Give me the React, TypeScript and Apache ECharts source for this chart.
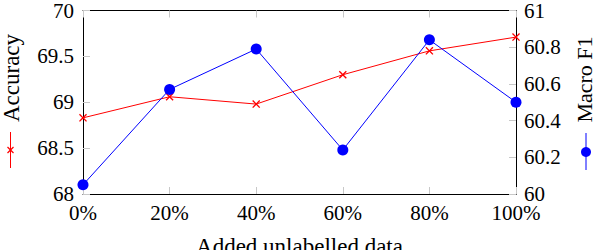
import React, { useEffect, useRef } from "react";
import * as echarts from "echarts";

const categories = ["0%", "20%", "40%", "60%", "80%", "100%"];
const accuracy = [68.83, 69.06, 68.98, 69.3, 69.56, 69.71];
const macroF1 = [60.05, 60.57, 60.79, 60.24, 60.84, 60.5];
const xName = "Added unlabelled data";
const leftName = "Accuracy";
const rightName = "Macro F1";

const FONT = "Liberation Serif";
const RED = "#ff0000";
const BLUE = "#0000ff";
const TICK = "#c8c8c8";
const CROSS =
  "path://M0,1.2L1.2,0L5,3.8L8.8,0L10,1.2L6.2,5L10,8.8L8.8,10L5,6.2L1.2,10L0,8.8L3.8,5Z";

const fmt = (v: number) => String(parseFloat(v.toFixed(1)));

export default function App() {
  const ref = useRef<HTMLDivElement>(null);
  useEffect(() => {
    if (!ref.current) return;
    const chart = echarts.init(ref.current, null, { renderer: "svg" });
    const labelStyle = { color: "#000", fontFamily: FONT, fontSize: 21 };
    chart.setOption({
      animation: false,
      textStyle: { fontFamily: FONT, color: "#000" },
      grid: { left: 83, right: 78, top: 9, bottom: 56, show: false },
      xAxis: [
        {
          type: "category",
          data: categories,
          boundaryGap: false,
          position: "bottom",
          axisLine: { show: true, lineStyle: { color: "#000", width: 1 } },
          axisTick: { show: true, inside: true, length: 7, lineStyle: { color: TICK } },
          axisLabel: { ...labelStyle, margin: 8, interval: 0 },
          splitLine: { show: false },
        },
        {
          type: "category",
          data: categories,
          boundaryGap: false,
          position: "top",
          axisLine: { show: true, lineStyle: { color: "#000", width: 1 } },
          axisTick: { show: true, inside: true, length: 7, lineStyle: { color: TICK } },
          axisLabel: { show: false },
          splitLine: { show: false },
        },
      ],
      yAxis: [
        {
          type: "value",
          min: 68,
          max: 70,
          interval: 0.5,
          position: "left",
          axisLine: { show: true, lineStyle: { color: "#000", width: 1 } },
          axisTick: { show: true, inside: true, length: 7, lineStyle: { color: TICK } },
          axisLabel: { ...labelStyle, margin: 9, formatter: fmt },
          splitLine: { show: false },
        },
        {
          type: "value",
          min: 60,
          max: 61,
          interval: 0.2,
          position: "right",
          axisLine: { show: true, lineStyle: { color: "#000", width: 1 } },
          axisTick: { show: true, inside: true, length: 7, lineStyle: { color: TICK } },
          axisLabel: { ...labelStyle, margin: 8, formatter: fmt },
          splitLine: { show: false },
        },
      ],
      series: [
        {
          name: leftName,
          type: "line",
          data: accuracy,
          xAxisIndex: 0,
          yAxisIndex: 0,
          symbol: CROSS,
          symbolSize: 8,
          itemStyle: { color: RED },
          lineStyle: { color: RED, width: 1 },
        },
        {
          name: rightName,
          type: "line",
          data: macroF1,
          xAxisIndex: 0,
          yAxisIndex: 1,
          symbol: "circle",
          symbolSize: 11,
          itemStyle: { color: BLUE },
          lineStyle: { color: BLUE, width: 1 },
        },
      ],
      graphic: [
        {
          type: "text",
          x: 299.5,
          y: 246,
          style: {
            text: xName,
            fontFamily: FONT,
            fontSize: 23,
            fill: "#000",
            align: "center",
            verticalAlign: "middle",
          },
        },
        {
          type: "text",
          x: 11,
          y: 78,
          rotation: Math.PI / 2,
          style: {
            text: leftName,
            fontFamily: FONT,
            fontSize: 23,
            fill: "#000",
            align: "center",
            verticalAlign: "middle",
          },
        },
        {
          type: "line",
          shape: { x1: 10.5, y1: 132, x2: 10.5, y2: 168 },
          style: { stroke: RED, lineWidth: 1 },
        },
        {
          type: "line",
          shape: { x1: 7.5, y1: 147, x2: 13.5, y2: 153 },
          style: { stroke: RED, lineWidth: 1.2 },
        },
        {
          type: "line",
          shape: { x1: 13.5, y1: 147, x2: 7.5, y2: 153 },
          style: { stroke: RED, lineWidth: 1.2 },
        },
        {
          type: "text",
          x: 584,
          y: 79.5,
          rotation: Math.PI / 2,
          style: {
            text: rightName,
            fontFamily: FONT,
            fontSize: 22,
            fill: "#000",
            align: "center",
            verticalAlign: "middle",
          },
        },
        {
          type: "line",
          shape: { x1: 586, y1: 133, x2: 586, y2: 170 },
          style: { stroke: BLUE, lineWidth: 1 },
        },
        {
          type: "circle",
          shape: { cx: 586, cy: 152, r: 5 },
          style: { fill: BLUE },
        },
      ],
    });
    return () => chart.dispose();
  }, []);
  return (
    <div
      ref={ref}
      style={{ position: "fixed", left: 0, top: 0, width: 594, height: 250, background: "#fff" }}
    />
  );
}
